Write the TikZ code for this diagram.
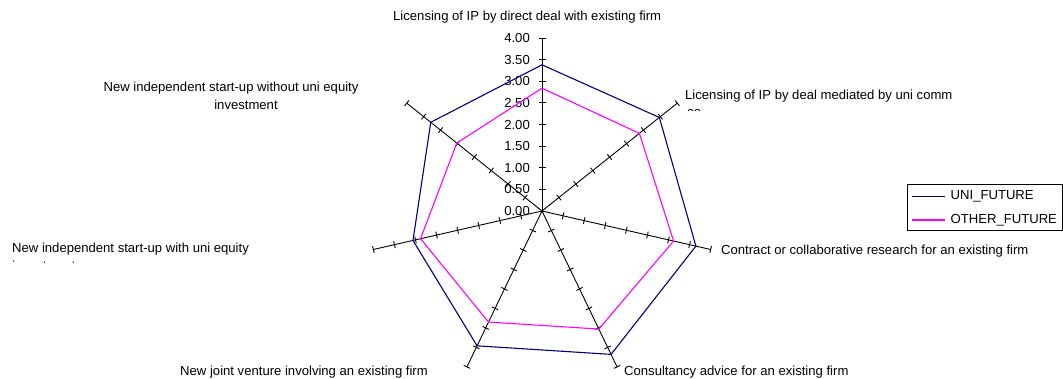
\documentclass[tikz,border=0pt]{standalone}
\usepackage{fontspec}
\setmainfont{Liberation Sans}
\usetikzlibrary{calc}
\definecolor{uninavy}{RGB}{0,0,128}
\definecolor{othermag}{RGB}{255,0,255}
\begin{document}
\begin{tikzpicture}[x=1pt,y=1pt,
  axisline/.style={black,line width=0.9pt},
  uniline/.style={draw=uninavy,line width=1.1pt,line join=miter},
  otherline/.style={draw=othermag,line width=1.1pt,line join=miter},
  lbl/.style={font=\fontsize{13.1}{15}\selectfont,inner sep=0pt,text=black},
  numlbl/.style={font=\fontsize{13.1}{15}\selectfont,inner sep=0pt,anchor=east,text=black},
  legbox/.style={draw=black,line width=0.9pt}]
\useasboundingbox (0,0) rectangle (1063,378);
\coordinate (C) at (542,167);
% axes with ticks
\foreach \k in {0,...,6}{
  \pgfmathsetmacro\ang{90-\k*360/7}
  \coordinate (e\k) at ($(C)+(\ang:173)$);
  \draw[axisline] (C) -- (e\k);
  \foreach \j in {1,...,8}{
    \pgfmathsetmacro\rr{\j*21.625}
    \pgfmathsetmacro\angp{\ang+90}
    \pgfmathsetmacro\angm{\ang-90}
    \draw[axisline] ($(C)+(\ang:\rr)+(\angp:3.5)$) -- ++(\angm:7);
  }
}
% value labels
\foreach \t [count=\j from 0] in {0.00,0.50,1.00,1.50,2.00,2.50,3.00,3.50,4.00}{
  \node[numlbl] (v\j) at (530,167+\j*21.625) {\t};
}
% data
\foreach \v [count=\i from 0] in {3.38,3.47,3.65,3.68,3.46,3.06,3.29}{
  \pgfmathsetmacro\ang{90-\i*360/7}
  \pgfmathsetmacro\rr{\v*43.25}
  \coordinate (u\i) at ($(C)+(\ang:\rr)$);
}
\foreach \v [count=\i from 0] in {2.84,2.88,3.12,3.03,2.85,2.88,2.52}{
  \pgfmathsetmacro\ang{90-\i*360/7}
  \pgfmathsetmacro\rr{\v*43.25}
  \coordinate (o\i) at ($(C)+(\ang:\rr)$);
}
\draw[otherline] (o0)--(o1)--(o2)--(o3)--(o4)--(o5)--(o6)--cycle;
\draw[uniline] (u0)--(u1)--(u2)--(u3)--(u4)--(u5)--(u6)--cycle;
% axis labels
\node[lbl,anchor=base west] (l0) at (393,357) {Licensing of IP by direct deal with existing firm};
\node[lbl,anchor=base west] (l1) at (685,278) {Licensing of IP by deal mediated by uni comm};
\begin{scope}
  \clip (680,267) rectangle (800,270.5);
  \node[lbl,anchor=base west] (l1b) at (687,261) {co.};
\end{scope}
\node[lbl,anchor=base west] (l2) at (721,124) {Contract or collaborative research for an existing firm};
\node[lbl,anchor=base west] (l3) at (624,3) {Consultancy advice for an existing firm};
\node[lbl,anchor=base east] (l4) at (428,3) {New joint venture involving an existing firm};
\node[lbl,anchor=base west] (l5) at (12,125) {New independent start-up with uni equity};
\begin{scope}
  \clip (0,115.5) rectangle (300,120);
  \node[lbl,anchor=base west] (l5b) at (12,108) {investment};
\end{scope}
\node[lbl,anchor=base] (l6) at (231,286) {New independent start-up without uni equity};
\node[lbl,anchor=base] (l6b) at (246,268) {investment};
% legend
\draw[legbox] (907.5,147.5) rectangle (1062,194);
\draw[draw=uninavy,line width=1.1pt] (911.5,181.3) coordinate (la) -- (945,181.3) coordinate (lb);
\draw[draw=othermag,line width=1.1pt] (911.5,158) coordinate (lc) -- (945,158) coordinate (ld);
\node[lbl,anchor=west] (t1) at (950.5,181.3) {UNI\_FUTURE};
\node[lbl,anchor=west] (t2) at (950.5,158) {OTHER\_FUTURE};
\end{tikzpicture}
\end{document}
